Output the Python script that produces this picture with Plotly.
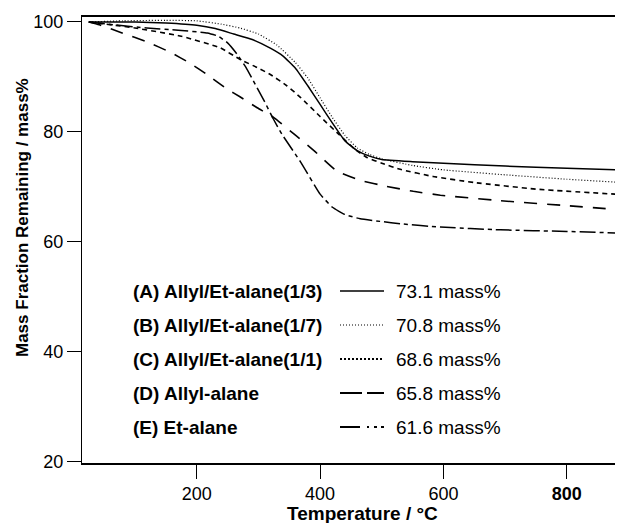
import plotly.graph_objects as go

# ---------------- data ----------------
temp_A = [25, 100, 150, 200, 230, 260, 290, 320, 340, 360, 380, 400, 420, 440, 460, 480, 500, 550, 600, 700, 800, 891]
mass_A = [100, 100, 99.8, 99.4, 98.8, 97.8, 96.8, 95.2, 93.8, 91.6, 88.4, 85.0, 81.6, 78.4, 76.6, 75.6, 75.0, 74.6, 74.3, 73.8, 73.4, 73.1]

temp_B = [25, 80, 150, 200, 240, 270, 300, 330, 360, 380, 400, 420, 440, 460, 480, 500, 550, 600, 700, 800, 891]
mass_B = [100, 100.2, 100.3, 100.2, 99.6, 98.9, 97.8, 95.8, 92.6, 89.8, 86.2, 82.6, 79.4, 77.1, 75.9, 75.1, 73.9, 73.1, 72.2, 71.4, 70.8]

temp_C = [25, 100, 175, 238, 270, 300, 320, 346, 368, 400, 430, 455, 475, 500, 530, 583, 650, 750, 891]
mass_C = [100, 98.9, 97.4, 95.3, 93.2, 91.6, 90.4, 88.4, 86.3, 82.8, 79.6, 77.0, 75.4, 74.3, 73.2, 71.9, 70.8, 69.6, 68.6]

temp_D = [25, 42, 79, 119, 157, 189, 217, 249, 270, 298, 325, 360, 390, 427, 465, 508, 551, 595, 692, 800, 891]
mass_D = [100, 99.5, 98.0, 96.4, 94.5, 92.5, 90.4, 87.8, 86.4, 84.4, 82.6, 79.4, 76.6, 72.9, 71.2, 70.1, 69.2, 68.5, 67.5, 66.6, 65.8]

temp_E = [25, 65, 119, 170, 217, 235, 250, 265, 280, 295, 310, 324, 338, 368, 400, 420, 440, 465, 500, 530, 595, 692, 800, 891]
mass_E = [100, 99.5, 98.9, 98.5, 98.0, 97.4, 96.2, 94.2, 91.7, 88.6, 85.5, 82.4, 79.6, 74.6, 68.7, 66.3, 65.0, 64.2, 63.7, 63.3, 62.7, 62.2, 61.9, 61.6]

labels = ["(A) Allyl/Et-alane(1/3)", "(B) Allyl/Et-alane(1/7)", "(C) Allyl/Et-alane(1/1)",
          "(D) Allyl-alane", "(E) Et-alane"]
residues = ["73.1 mass%", "70.8 mass%", "68.6 mass%", "65.8 mass%", "61.6 mass%"]

x_tickvals = [200, 400, 600, 800]
x_ticktext = ["200", "400", "600", "<b>800</b>"]
y_tickvals = [20, 40, 60, 80, 100]

# ---------------- styling ----------------
FONT = "Liberation Sans, Arial, Helvetica, sans-serif"
series = [
    (temp_A, mass_A, dict(color="black", width=1.5, dash="solid")),
    (temp_B, mass_B, dict(color="black", width=1.2, dash="1px,2px")),
    (temp_C, mass_C, dict(color="black", width=1.6, dash="5px,4px")),
    (temp_D, mass_D, dict(color="black", width=1.6, dash="13px,10px")),
    (temp_E, mass_E, dict(color="black", width=1.5, dash="16px,4px,4px,4px")),
]
legend_dash = [
    dict(color="black", width=1.5, dash="solid"),
    dict(color="black", width=1.2, dash="1px,2px"),
    dict(color="black", width=2, dash="2px,2px"),
    dict(color="black", width=2, dash="22px,5px"),
    dict(color="black", width=2, dash="20px,7px,2px,5px,3px,4px"),
]

fig = go.Figure()
for t, m, ln in series:
    fig.add_trace(go.Scatter(x=t, y=m, mode="lines", line=dict(shape="spline", smoothing=0.4, **ln),
                             showlegend=False, hoverinfo="skip"))

# The page body has an 8px default margin, so the figure is laid out 8px up/left of the reference pixels.
OFF = 8
W, H = 623 - OFF, 523 - OFF
ML, MR, MT, MB = 82 - OFF, 0, 17 - OFF, 523 - 463
PW, PH = W - ML - MR, H - MT - MB


def px2paper_x(px):  # px in reference-picture pixels
    return (px - OFF - ML) / PW


def px2paper_y(py):
    return (H - MB - (py - OFF)) / PH


row_y = [291, 325, 359, 393, 427]
annotations = []
shapes = []
for i, (lab, res) in enumerate(zip(labels, residues)):
    yy = px2paper_y(row_y[i])
    annotations.append(dict(x=px2paper_x(131), y=yy, xref="paper", yref="paper", text="<b>" + lab + "</b>",
                            showarrow=False, xanchor="left", yanchor="middle",
                            font=dict(family=FONT, size=19, color="black")))
    annotations.append(dict(x=px2paper_x(394), y=yy, xref="paper", yref="paper", text=res,
                            showarrow=False, xanchor="left", yanchor="middle",
                            font=dict(family=FONT, size=19, color="black")))
    shapes.append(dict(type="line", xref="paper", yref="paper", x0=px2paper_x(340), x1=px2paper_x(384),
                       y0=yy, y1=yy, line=legend_dash[i]))

annotations.append(dict(x=px2paper_x(22), y=px2paper_y(218), xref="paper", yref="paper",
                        text="<b>Mass Fraction Remaining / mass%</b>", textangle=-90, showarrow=False,
                        xanchor="center", yanchor="middle", font=dict(family=FONT, size=17, color="black")))
annotations.append(dict(x=px2paper_x(362), y=px2paper_y(513), xref="paper", yref="paper",
                        text="<b>Temperature / °C</b>", showarrow=False,
                        xanchor="center", yanchor="middle", font=dict(family=FONT, size=19, color="black")))

fig.update_layout(
    width=W, height=H,
    margin=dict(l=ML, r=MR, t=MT, b=MB, pad=0),
    paper_bgcolor="white", plot_bgcolor="white",
    font=dict(family=FONT, size=18, color="black"),
    xaxis=dict(range=[14, 891], showgrid=False, zeroline=False, showline=True, linecolor="black",
               linewidth=1.5, mirror=True, ticks="outside", ticklen=14, tickwidth=1.3, tickcolor="black",
               tickvals=x_tickvals, ticktext=x_ticktext, tickfont=dict(family=FONT, size=18)),
    yaxis=dict(range=[19.8, 100.9], showgrid=False, zeroline=False, showline=True, linecolor="black",
               linewidth=1.3, ticks="outside", ticklen=14, tickwidth=1.3, tickcolor="black",
               tickvals=y_tickvals, tickfont=dict(family=FONT, size=18)),
    annotations=annotations,
    shapes=shapes,
)

fig.write_html("out.html")
